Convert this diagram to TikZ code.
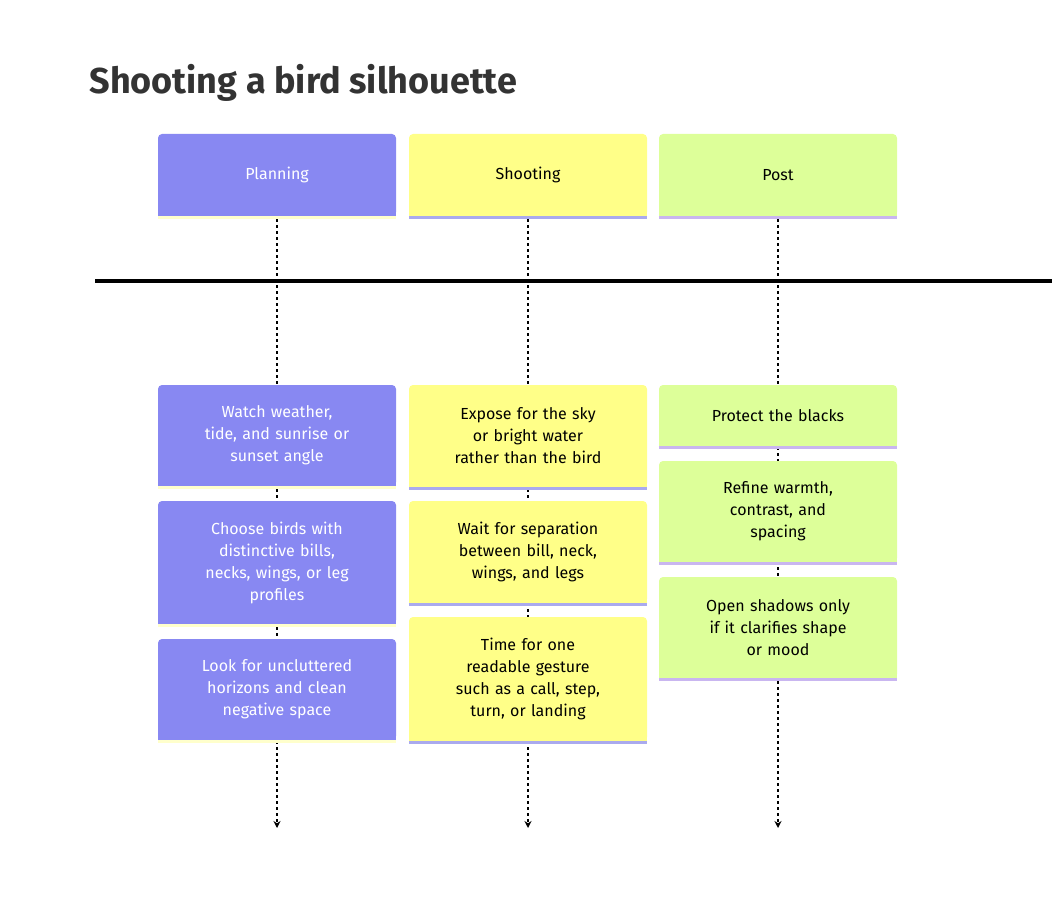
\documentclass[tikz,border=0pt]{standalone}
\usepackage{fontspec}
\setmainfont{Fira Sans}
\usetikzlibrary{arrows.meta}
\definecolor{planc}{HTML}{8888F2}
\definecolor{shotc}{HTML}{FFFF88}
\definecolor{postc}{HTML}{DDFF99}
\definecolor{planbar}{HTML}{FFFFCC}
\definecolor{shotbar}{HTML}{AAAAEE}
\definecolor{postbar}{HTML}{C9B6F0}
\tikzset{
  card/.style={rounded corners=4pt},
  cardtext/.style={align=center, font=\fontsize{16}{22}\selectfont, text width=220pt},
  timeline/.style={dashed, line width=1.5pt, -{Stealth[length=7pt,width=7pt]}}
}
% #1 name, #2 left x, #3 top y, #4 bottom y, #5 fill, #6 bar, #7 text colour, #8 text
\newcommand{\card}[8]{
  \fill[#5, card] (#2,#3) -- (#2+238,#3) -- (#2+238,#4) -- (#2,#4) -- cycle;
  \fill[#5] (#2,#4-6) rectangle (#2+238,#4);
  \fill[#6] (#2,#4) rectangle (#2+238,#4+3);
  \node[cardtext, text=#7] (#1) at (#2+119,{(#3+#4)/2}) {#8};
}
\begin{document}
\begin{tikzpicture}[x=1pt, y=-1pt]
  \useasboundingbox (0,0) rectangle (1052,904);
  \node[anchor=west, font=\bfseries\fontsize{36}{40}\selectfont, text=black!80] (title) at (86,83) {Shooting a bird silhouette};
  % Timelines behind the cards.
  \coordinate (pend) at (277,828);
  \coordinate (send) at (528,828);
  \coordinate (oend) at (778,828);
  \coordinate (pstart) at (277,219);
  \coordinate (sstart) at (528,219);
  \coordinate (ostart) at (778,219);
  \draw[timeline] (pstart) -- (pend);
  \draw[timeline] (sstart) -- (send);
  \draw[timeline] (ostart) -- (oend);
  \coordinate (axl) at (95,281);
  \coordinate (axr) at (1052,281);
  \draw[line width=4pt] (axl) -- (axr);
  % Sections.
  \card{plan}{158}{134}{216}{planc}{planbar}{white}{Planning\\[22pt]}
  \card{shot}{409}{134}{216}{shotc}{shotbar}{black}{Shooting\\[22pt]}
  \card{post}{659}{134}{216}{postc}{postbar}{black}{Post\\[22pt]}
  % Planning tasks.
  \card{plana}{158}{385}{486}{planc}{planbar}{white}{Watch weather,\\tide, and sunrise or\\sunset angle}
  \card{planb}{158}{501}{624}{planc}{planbar}{white}{Choose birds with\\distinctive bills,\\necks, wings, or leg\\profiles}
  \card{planc}{158}{639}{740}{planc}{planbar}{white}{Look for uncluttered\\horizons and clean\\negative space}
  % Shooting tasks.
  \card{shota}{409}{385}{487}{shotc}{shotbar}{black}{Expose for the sky\\or bright water\\rather than the bird}
  \card{shotb}{409}{501}{603}{shotc}{shotbar}{black}{Wait for separation\\between bill, neck,\\wings, and legs}
  \card{shotc}{409}{617}{741}{shotc}{shotbar}{black}{Time for one\\readable gesture\\such as a call, step,\\turn, or landing}
  % Post tasks.
  \card{posta}{659}{385}{446}{postc}{postbar}{black}{Protect the blacks}
  \card{postb}{659}{461}{562}{postc}{postbar}{black}{Refine warmth,\\contrast, and\\spacing}
  \card{postc}{659}{577}{678}{postc}{postbar}{black}{Open shadows only\\if it clarifies shape\\or mood}
\end{tikzpicture}
\end{document}
